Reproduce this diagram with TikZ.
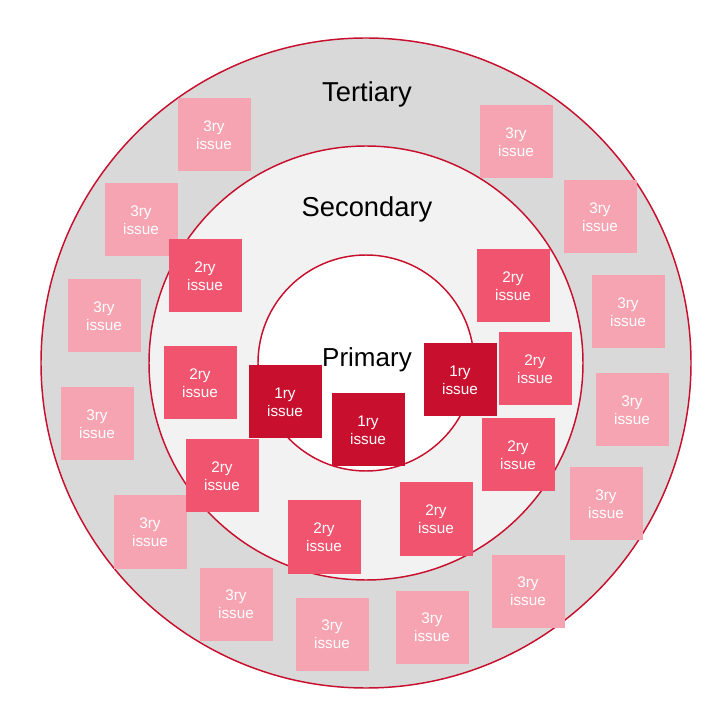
\documentclass[tikz,border=0pt]{standalone}
\usepackage{fontspec}
\setmainfont{Liberation Sans}
\definecolor{primred}{HTML}{C8102E}
\definecolor{secred}{HTML}{F0546E}
\definecolor{terpink}{HTML}{F6A4B2}
\definecolor{tertfill}{HTML}{D9D9D9}
\definecolor{secfill}{HTML}{F2F2F2}
\begin{document}
\begin{tikzpicture}[
  x=0.75pt, y=-0.75pt,
  ring/.style={circle, draw=primred, line width=1.1pt, inner sep=0pt},
  issue/.style={minimum width=54.75pt, minimum height=54.75pt, inner sep=0pt,
                align=center, text=white, font=\fontsize{11.5}{13.5}\selectfont},
  third/.style={issue, fill=terpink},
  second/.style={issue, fill=secred},
  first/.style={issue, fill=primred},
  title/.style={anchor=base, font=\fontsize{20.5}{23}\selectfont}
]
  \fill[white] (0,0) rectangle (722,720);
  \useasboundingbox (0,0) rectangle (722,720);

  \node[ring, fill=tertfill, minimum size=487.5pt] (tertring) at (366,363) {};
  \node[ring, fill=secfill,  minimum size=325.5pt] (secring)  at (366,363) {};
  \node[ring, fill=white,    minimum size=162pt]   (primring) at (366,363) {};

  \node[title] (tertlabel) at (367,102) {Tertiary};
  \node[title] (seclabel)  at (367,217) {Secondary};
  \node[title, font=\fontsize{19.5}{22}\selectfont] (primlabel) at (367,367) {Primary};

  \node[third] (t1)  at (214,135) {3ry\\issue};
  \node[third] (t2)  at (141,220) {3ry\\issue};
  \node[third] (t3)  at (104,316) {3ry\\issue};
  \node[third] (t4)  at (97,424)  {3ry\\issue};
  \node[third] (t5)  at (150,532) {3ry\\issue};
  \node[third] (t6)  at (236,604) {3ry\\issue};
  \node[third] (t7)  at (332,634) {3ry\\issue};
  \node[third] (t8)  at (432,627) {3ry\\issue};
  \node[third] (t9)  at (528,591) {3ry\\issue};
  \node[third] (t10) at (606,504) {3ry\\issue};
  \node[third] (t11) at (632,410) {3ry\\issue};
  \node[third] (t12) at (628,312) {3ry\\issue};
  \node[third] (t13) at (600,217) {3ry\\issue};
  \node[third] (t14) at (516,142) {3ry\\issue};

  \node[second] (s1) at (205,276) {2ry\\issue};
  \node[second] (s2) at (200,383) {2ry\\issue};
  \node[second] (s3) at (222,476) {2ry\\issue};
  \node[second] (s4) at (324,537) {2ry\\issue};
  \node[second] (s5) at (436,519) {2ry\\issue};
  \node[second] (s6) at (518,455) {2ry\\issue};
  \node[second] (s7) at (535,369) {2ry\\issue};
  \node[second] (s8) at (513,286) {2ry\\issue};

  \node[first] (p1) at (285,402) {1ry\\issue};
  \node[first] (p2) at (368,430) {1ry\\issue};
  \node[first] (p3) at (460,380) {1ry\\issue};
\end{tikzpicture}
\end{document}
